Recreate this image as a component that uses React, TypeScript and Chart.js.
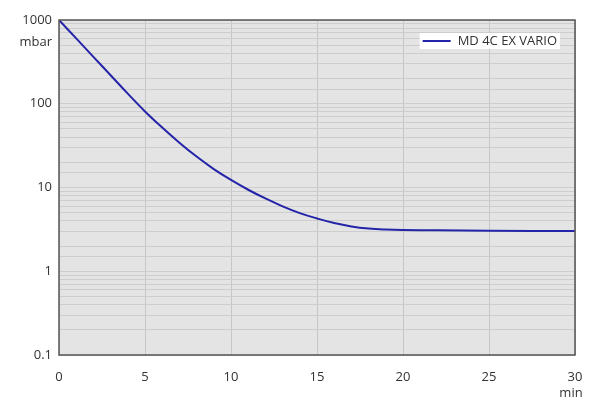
import React, { useEffect, useRef } from "react";
import { Chart, registerables } from "chart.js";

Chart.register(...registerables);

const seriesLabel = "MD 4C EX VARIO";
const timeMin = [0, 1, 2, 3, 4, 5, 6, 7, 8, 9, 10, 11, 12, 13, 14, 15, 16, 17, 18, 19, 20, 22, 25, 30];
const pressureMbar = [1000, 603, 363, 219, 132, 81, 52, 34.3, 23.4, 16.6, 12.3, 9.4, 7.4, 5.96, 4.95, 4.27, 3.76, 3.43, 3.24, 3.15, 3.11, 3.08, 3.05, 3.02];
const xTicks = [0, 5, 10, 15, 20, 25, 30];
const yDecades = [0.1, 1, 10, 100, 1000];
const yUnit = "mbar";
const xUnit = "min";

const FONT = "'Open Sans', 'DejaVu Sans', sans-serif";
const TEXT = "#333333";
const LINE = "#2424a8";

export default function App() {
  const ref = useRef<HTMLCanvasElement | null>(null);

  useEffect(() => {
    document.body.style.margin = "0";
    const canvas = ref.current;
    if (!canvas) return;

    const decoPlugin = {
      id: "deco",
      beforeDraw(chart: any) {
        const { ctx, chartArea: a } = chart;
        ctx.save();
        ctx.fillStyle = "#e4e4e4";
        ctx.fillRect(a.left, a.top, a.right - a.left, a.bottom - a.top);
        ctx.restore();
      },
      afterDatasetsDraw(chart: any) {
        const { ctx, chartArea: a } = chart;
        ctx.save();
        ctx.strokeStyle = "#555555";
        ctx.lineWidth = 1.5;
        ctx.strokeRect(a.left, a.top, a.right - a.left, a.bottom - a.top);
        const ds = chart.data.datasets[0];
        ctx.font = `13px ${FONT}`;
        const tw = ctx.measureText(ds.label).width;
        const boxW = 3 + 28 + 7 + tw + 3;
        const boxH = 16;
        const bx = a.right - 15 - boxW;
        const by = a.top + 13;
        ctx.fillStyle = "#ffffff";
        ctx.fillRect(bx, by, boxW, boxH);
        ctx.strokeStyle = ds.borderColor;
        ctx.lineWidth = 2;
        ctx.beginPath();
        ctx.moveTo(bx + 3, by + boxH / 2);
        ctx.lineTo(bx + 31, by + boxH / 2);
        ctx.stroke();
        ctx.fillStyle = TEXT;
        ctx.textBaseline = "middle";
        ctx.textAlign = "left";
        ctx.fillText(ds.label, bx + 38, by + boxH / 2 + 0.5);
        const ys = chart.scales.y;
        const xs = chart.scales.x;
        ctx.textAlign = "right";
        ctx.fillText(yUnit, a.left - 7, ys.getPixelForValue(1000) + 22);
        ctx.textAlign = "center";
        ctx.fillText(xUnit, xs.getPixelForValue(30) - 4, a.bottom + 38);
        ctx.restore();
      },
    };

    const chart = new Chart(canvas, {
      type: "line",
      data: {
        datasets: [
          {
            label: seriesLabel,
            data: timeMin.map((t, i) => ({ x: t, y: pressureMbar[i] })),
            borderColor: LINE,
            borderWidth: 2,
            pointRadius: 0,
            tension: 0.4,
            fill: false,
          },
        ],
      },
      options: {
        responsive: false,
        animation: false,
        layout: { padding: { top: 20, right: 25, left: 0, bottom: 0 } },
        plugins: { legend: { display: false }, tooltip: { enabled: false } },
        scales: {
          x: {
            type: "linear",
            min: 0,
            max: 30,
            afterFit: (s: any) => {
              s.height = 45;
            },
            afterBuildTicks: (s: any) => {
              s.ticks = xTicks.map((v) => ({ value: v }));
            },
            grid: { color: "#c6c6c6", drawTicks: false, lineWidth: 1 },
            border: { display: false },
            ticks: { padding: 14, color: TEXT, font: { family: FONT, size: 13 }, maxRotation: 0 },
          },
          y: {
            type: "logarithmic",
            min: 0.1,
            max: 1000,
            afterFit: (s: any) => {
              s.width = 59;
            },
            grid: { color: "#cdcdcd", drawTicks: false, lineWidth: 1 },
            border: { display: false },
            ticks: {
              autoSkip: false,
              padding: 7,
              color: TEXT,
              font: { family: FONT, size: 13 },
              callback: (v: any) => {
                const n = Number(v);
                const d = yDecades.find((x) => Math.abs(x - n) / x < 1e-6);
                return d !== undefined ? String(d) : "";
              },
            },
          },
        },
      },
      plugins: [decoPlugin],
    } as any);

    return () => chart.destroy();
  }, []);

  return (
    <div style={{ width: 600, height: 400 }}>
      <canvas ref={ref} width={600} height={400} />
    </div>
  );
}
